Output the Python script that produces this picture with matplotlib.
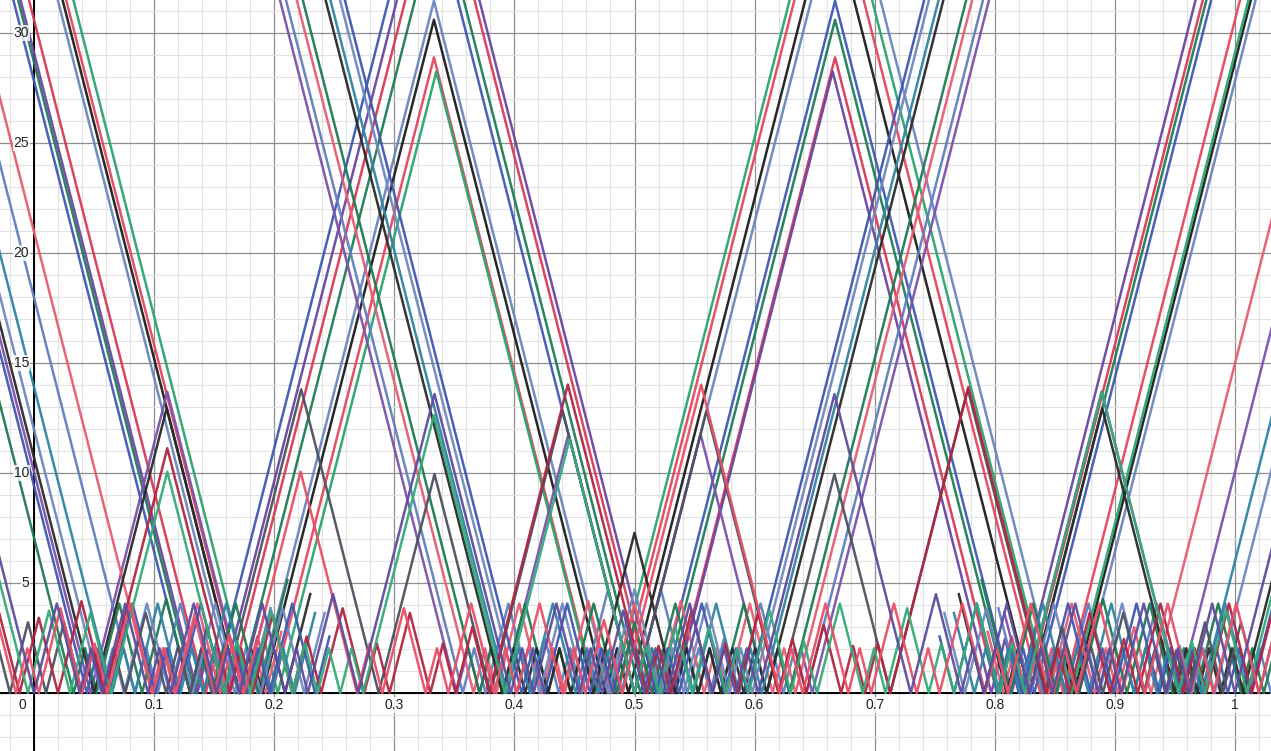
import numpy as np
import matplotlib.pyplot as plt

# every line is a zig-zag with the same steepness, drawn between its zeros
SLOPE = 214.0

# --- big curves, peak near 1/3 visible (zeros) ---
x1_zeros = [-0.21, 0.171, 0.190, 0.476, 0.495, 0.830, 0.849, 0.866, 1.20]
x2_zeros = [-0.22, 0.174, 0.198, 0.468, 0.486, 0.838, 0.857, 1.21]
x3_zeros = [-0.20, 0.180, 0.203, 0.467, 0.482, 0.845, 0.864, 1.20]
x4_zeros = [-0.22, 0.167, 0.186, 0.480, 0.500, 0.852, 0.870, 1.22]

# --- big curves, peak near 2/3 visible ---
y1_zeros = [-0.20, 0.134, 0.151, 0.170, 0.505, 0.524, 0.810, 0.829, 1.21]
y2_zeros = [-0.21, 0.143, 0.162, 0.514, 0.532, 0.802, 0.826, 1.22]
y3_zeros = [-0.20, 0.136, 0.155, 0.518, 0.533, 0.797, 0.820, 1.20]
y4_zeros = [-0.22, 0.130, 0.148, 0.500, 0.520, 0.814, 0.833, 1.21]

# --- curves that jump off the top (zeros + jump positions) ---
f1_zeros = [-0.30, 0.047, 0.175, 0.352, 0.371, 0.390, 0.500, 0.610, 0.629,
            0.648, 0.825, 0.953, 1.30]
f1_cuts = [0.192, 0.808]
f2_zeros = [-0.30, 0.084, 0.103, 0.141, 0.160, 0.179, 0.357, 0.376, 0.414,
            0.437, 0.456, 0.500, 0.544, 0.563, 0.586, 0.624, 0.643, 0.821,
            0.840, 0.859, 0.897, 0.916, 0.954, 0.973, 1.011, 1.030, 1.30]
f2_cuts = [0.197, 0.803]
f3_zeros = [-0.30, 0.098, 0.117, 0.155, 0.174, 0.193, 0.366, 0.385, 0.423,
            0.442, 0.481, 0.519, 0.558, 0.577, 0.615, 0.634, 0.807, 0.826,
            0.845, 0.883, 0.902, 0.930, 1.30]
f3_cuts = [0.206, 0.794]
f4_zeros = [-0.30, 0.033, 0.052, 0.090, 0.130, 0.149, 0.187, 0.371, 0.390,
            0.428, 0.447, 0.485, 0.515, 0.553, 0.572, 0.610, 0.629, 0.813,
            0.851, 0.870, 0.910, 0.948, 0.967, 1.005, 1.024, 1.30]
f4_cuts = [0.211, 0.789]
f5_zeros = [-0.30, 0.050, 0.171, 0.190, 0.209, 0.390, 0.409, 0.428, 0.447,
            0.466, 0.534, 0.553, 0.572, 0.591, 0.610, 0.791, 0.810, 0.829,
            0.950, 0.969, 0.988, 1.007, 1.30]
f5_cuts = [0.230, 0.770]
f6_zeros = [-0.30, 0.065, 0.084, 0.122, 0.141, 0.179, 0.198, 0.217, 0.394,
            0.413, 0.451, 0.470, 0.489, 0.511, 0.530, 0.549, 0.587, 0.606,
            0.783, 0.802, 0.821, 0.859, 0.878, 0.916, 0.935, 0.954, 0.972, 1.30]
f6_cuts = [0.234, 0.766]
f7_zeros = [-0.30, 0.056, 0.075, 0.113, 0.132, 0.170, 0.189, 0.225, 0.402,
            0.421, 0.459, 0.478, 0.522, 0.541, 0.579, 0.598, 0.775, 0.811,
            0.830, 0.868, 0.887, 0.925, 0.944, 0.964, 0.983, 1.30]
f7_cuts = [0.242, 0.758]
f8_zeros = [-0.30, 0.044, 0.063, 0.101, 0.120, 0.158, 0.177, 0.196, 0.234,
            0.406, 0.425, 0.463, 0.482, 0.500, 0.518, 0.537, 0.575, 0.594,
            0.766, 0.804, 0.823, 0.842, 0.880, 0.899, 0.937, 0.956, 0.975,
            0.994, 1.013, 1.30]
f8_cuts = [0.246, 0.754]

# --- medium curves (peaks near k/9) ---
m1_zeros = [-0.10, -0.020, 0.010, 0.040, 0.058, 0.076, 0.110, 0.130, 0.158,
            0.287, 0.380, 0.500, 0.620, 0.713, 0.842, 0.870, 0.890, 0.924,
            0.942, 0.960, 0.990, 1.020, 1.10]
m2_zeros = [-0.10, -0.012, 0.020, 0.059, 0.163, 0.182, 0.215, 0.239, 0.275,
            0.296, 0.330, 0.351, 0.379, 0.510, 0.530, 0.565, 0.586, 0.620,
            0.643, 0.672, 0.692, 0.713, 0.843, 0.862, 0.896, 0.919, 0.957,
            0.976, 1.014, 1.10]
m3_zeros = [-0.10, -0.005, 0.030, 0.064, 0.158, 0.180, 0.215, 0.236, 0.255,
            0.274, 0.392, 0.500, 0.520, 0.548, 0.576, 0.595, 0.630, 0.652,
            0.690, 0.709, 0.745, 0.766, 0.804, 0.825, 0.953, 0.975, 1.010, 1.10]
m4_zeros = [-0.10, -0.015, 0.004, 0.040, 0.061, 0.099, 0.118, 0.150, 0.175,
            0.269, 0.290, 0.326, 0.345, 0.383, 0.402, 0.440, 0.459, 0.490,
            0.621, 0.640, 0.678, 0.697, 0.735, 0.754, 0.792, 0.811, 0.849,
            0.868, 0.906, 0.925, 0.963, 0.982, 1.020, 1.10]
m5_zeros = [-0.10, 0.000, 0.038, 0.057, 0.095, 0.114, 0.152, 0.171, 0.209,
            0.228, 0.270, 0.397, 0.416, 0.454, 0.473, 0.508, 0.527, 0.565,
            0.584, 0.603, 0.730, 0.772, 0.791, 0.829, 0.848, 0.886, 0.905,
            0.943, 0.962, 1.000, 1.10]

x_tick_labels = ['0.1', '0.2', '0.3', '0.4', '0.5', '0.6', '0.7', '0.8', '0.9', '1']
y_tick_labels = ['5', '10', '15', '20', '25', '30']

curves = [
    (x1_zeros, [], '#1c1c1c'), (x2_zeros, [], '#e5475f'),
    (x3_zeros, [], '#2ca36f'), (x4_zeros, [], '#6b86bd'),
    (y1_zeros, [], '#1f7d57'), (y2_zeros, [], '#d93a57'),
    (y3_zeros, [], '#6b45a3'), (y4_zeros, [], '#3f59b3'),
    (f1_zeros, f1_cuts, '#7a52ad'), (f2_zeros, f2_cuts, '#5f7fbf'),
    (f3_zeros, f3_cuts, '#e65d73'), (f4_zeros, f4_cuts, '#1e7a52'),
    (f5_zeros, f5_cuts, '#2a2a2a'), (f6_zeros, f6_cuts, '#2f84a3'),
    (f7_zeros, f7_cuts, '#7088bf'), (f8_zeros, f8_cuts, '#4157b0'),
    (m1_zeros, [], '#4d5160'), (m2_zeros, [], '#b02641'),
    (m3_zeros, [], '#35aa7a'), (m4_zeros, [], '#e84f66'),
    (m5_zeros, [], '#5e4c9e'),
]


def zigzag(zeros, cuts):
    # tent between each pair of zeros, or a jump where a cut sits between them
    xs, ys = [], []
    for a, b in zip(zeros[:-1], zeros[1:]):
        cut = [c for c in cuts if a < c < b]
        if cut:
            c = cut[0]
            xs += [a, c, np.nan, c]
            ys += [0, SLOPE * (c - a), np.nan, SLOPE * (b - c)]
        else:
            m = (a + b) / 2
            xs += [a, m]
            ys += [0, SLOPE * (m - a)]
    xs.append(zeros[-1])
    ys.append(0)
    return xs, ys


plt.rcParams['font.family'] = ['Liberation Sans', 'DejaVu Sans']

fig = plt.figure(figsize=(12.71, 7.51), dpi=100)
ax = fig.add_axes([0, 0, 1, 1])
ax.set_xlim(-34 / 1201, 1237 / 1201)
ax.set_ylim(-58 / 22, 693 / 22)

# desmos style grid
ax.set_xticks(np.arange(0, 1.05, 0.1))
ax.set_xticks(np.arange(-0.02, 1.04, 0.02), minor=True)
ax.set_yticks(np.arange(0, 31, 5))
ax.set_yticks(np.arange(-2, 32, 1), minor=True)
ax.grid(which='major', color='#8f8f8f', lw=0.9)
ax.grid(which='minor', color='#e2e2e2', lw=0.8)
ax.tick_params(which='both', length=0, labelbottom=False, labelleft=False)
for s in ax.spines.values():
    s.set_visible(False)
ax.set_axisbelow(True)
ax.axhline(0, color='black', lw=1.4, zorder=1)
ax.axvline(0, color='black', lw=1.4, zorder=1)

for zeros, cuts, col in curves:
    xs, ys = zigzag(zeros, cuts)
    ax.plot(xs, ys, color=col, lw=1.8, alpha=0.95, zorder=2)

# tick labels inside the plot like desmos
for i, lab in enumerate(x_tick_labels):
    ax.text((i + 1) / 10, -0.55, lab, ha='center', va='center', fontsize=10,
            color='#222222', zorder=3,
            bbox=dict(facecolor='white', edgecolor='none', pad=0.5, alpha=0.8))
ax.text(-0.010, -0.55, '0', ha='center', va='center', fontsize=10, color='#222222')
for i, lab in enumerate(y_tick_labels):
    ax.text(-0.004, (i + 1) * 5, lab, ha='right', va='center', fontsize=10,
            color='#222222', zorder=3,
            bbox=dict(facecolor='white', edgecolor='none', pad=0.5, alpha=0.8))

fig.savefig('out.png', dpi=100)
